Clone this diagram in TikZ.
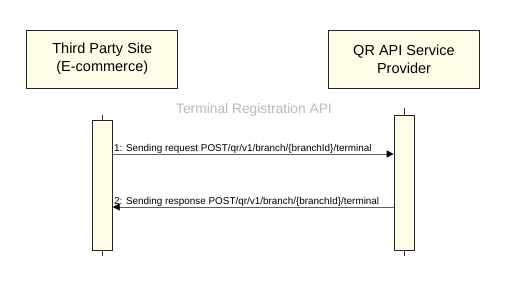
\documentclass[tikz,border=0pt]{standalone}
\usepackage{fontspec}
\setmainfont{Liberation Sans}
\usetikzlibrary{arrows.meta,positioning}
\definecolor{lightcream}{RGB}{255,253,231}
\definecolor{titlegray}{RGB}{185,185,185}
\definecolor{msggray}{RGB}{95,95,95}
\tikzset{
    participant/.style={
        rectangle,
        draw=black!85,
        fill=lightcream,
        line width=0.8pt,
        minimum width=151pt,
        minimum height=58pt,
        align=center,
        font=\fontsize{14.5}{18}\selectfont
    },
    activation/.style={
        rectangle,
        draw=black!85,
        fill=lightcream,
        line width=0.8pt,
        inner sep=0pt,
        minimum width=20pt
    },
    lifeline/.style={
        draw=black!80,
        line width=0.6pt
    },
    message/.style={
        -{Triangle[length=7pt,width=7pt,black]},
        draw=msggray,
        line width=0.9pt
    },
    msglabel/.style={
        font=\fontsize{9.9}{11}\selectfont,
        inner sep=0pt,
        anchor=base west,
        yshift=3pt,
        xshift=1pt
    }
}

\begin{document}
\begin{tikzpicture}[x=1pt,y=-1pt]
\useasboundingbox (0,0) rectangle (509,282);

% Participants
\node[participant] (site) at (102.3,59) {Third Party Site\\(E-commerce)};
\node[participant] (provider) at (404,59) {QR API Service\\Provider};

% Title
\node[text=titlegray, font=\fontsize{13.8}{16}\selectfont] (title) at (254,110) {Terminal Registration API};

% Lifelines
\draw[lifeline] (102.3,115) -- (102.3,256);
\draw[lifeline] (404,108) -- (404,256);

% Activation bars
\node[activation, minimum height=130pt] (sitebar) at (102.3,185) {};
\node[activation, minimum height=135pt] (providerbar) at (404,182.5) {};

% Messages
\coordinate (req) at (0,154);
\coordinate (resp) at (0,207);
\draw[message] (sitebar.east |- req) -- (providerbar.west |- req)
    node[msglabel, pos=0] {1: Sending request POST/qr/v1/branch/\{branchId\}/terminal};
\draw[message] (providerbar.west |- resp) -- (sitebar.east |- resp)
    node[msglabel, pos=1] {2: Sending response POST/qr/v1/branch/\{branchId\}/terminal};
\end{tikzpicture}
\end{document}
